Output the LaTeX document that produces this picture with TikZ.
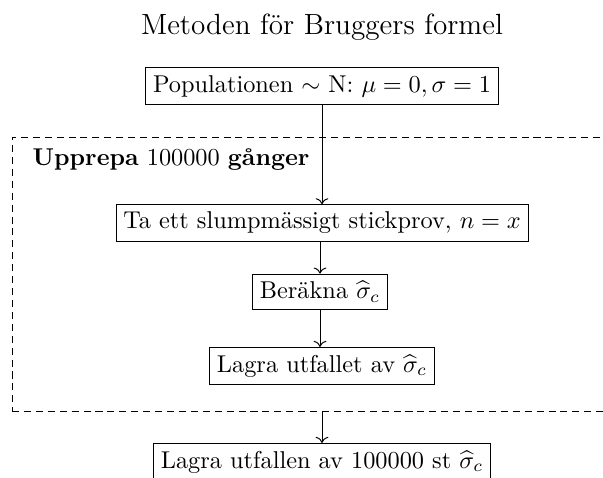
\documentclass[tikz,border=0pt]{standalone}
\usepackage{amsmath,amssymb}
\usetikzlibrary{positioning, fit, arrows.meta}

\begin{document}
\begin{tikzpicture}[
    x=0.411pt, y=-0.411pt,
    stepbox/.style={draw, thin, inner sep=3pt, font=\normalsize},
    loopbox/.style={draw, thin, dash pattern=on 2.9pt off 2pt, inner sep=0pt},
    flow/.style={->, thin},
]

% Frame (picture is cut at the right and the bottom)
\clip (0,0) rectangle (603,477);

% Title
\node[font=\large] (title) at (322,27) {Metoden f\"or Bruggers formel};

% Population
\node[stepbox] (pop) at (322,86) {Populationen $\sim$ N: $\mu=0,\sigma=1$};

% Repeat loop
\coordinate (loopnw) at (12,137);
\coordinate (loopse) at (640,411);
\node[loopbox, fit=(loopnw)(loopse)] (loop) {};
\node[anchor=west] (upprepa) at (24,160) {\textbf{Upprepa} 100000 \textbf{g\aa nger}};

% Steps inside the loop
\node[stepbox] (sample) at (322,223) {Ta ett slumpm\"assigt stickprov, $n=x$};
\node[stepbox] (calc) at (320,292) {Ber\"akna $\widehat{\sigma}_c$};
\node[stepbox] (store) at (322,366) {Lagra utfallet av $\widehat{\sigma}_c$};

% Result
\node[stepbox] (result) at (322,462) {Lagra utfallen av 100000 st $\widehat{\sigma}_c$};

% Arrows
\draw[flow] (pop) -- (sample);
\draw[flow] (sample.south -| calc) -- (calc);
\draw[flow] (calc) -- (store.north -| calc);
\draw[flow] (loop.south -| result) -- (result);

\end{tikzpicture}
\end{document}
